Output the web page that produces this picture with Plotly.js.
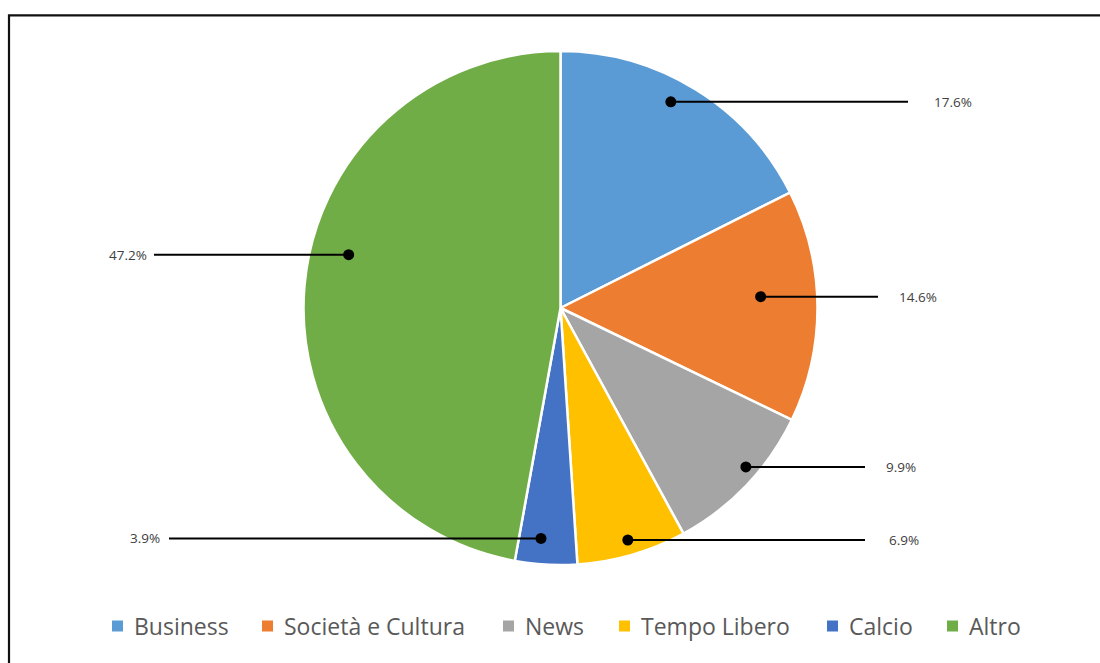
<!DOCTYPE html>
<html>
<head>
<meta charset="utf-8">
<script src="https://cdn.plot.ly/plotly-3.0.1.min.js"></script>
<style>html,body{margin:0;padding:0;background:#fff;}#chart{width:1100px;height:663px;}</style>
</head>
<body>
<div id="chart"></div>
<script>
// ---- data ----
const categories = ["Business", "Società e Cultura", "News", "Tempo Libero", "Calcio", "Altro"];
const values = [17.6, 14.6, 9.9, 6.9, 3.9, 47.2];
const colors = ["#5B9BD5", "#ED7D31", "#A5A5A5", "#FFC000", "#4472C4", "#70AD47"];

// ---- layout helpers (positions in pixels) ----
const W = 1100, H = 663;
const cx = 560.5, cy = 308, R = 257;
// per-label callout placement: radial fraction, angle nudge (deg), line end x, text x, side
const callouts = [
  {rf: 0.91, dAng: -3.5, lineX: 908, textX: 932, side: "right"},
  {rf: 0.78, dAng: -2.8, lineX: 878, textX: 897, side: "right"},
  {rf: 0.95, dAng: -3.0, lineX: 865, textX: 884, side: "right"},
  {rf: 0.94, dAng: 0.0,  lineX: 865, textX: 887, side: "right"},
  {rf: 0.90, dAng: 1.6,  lineX: 169, textX: 162, side: "left"},
  {rf: 0.85, dAng: 9.0,  lineX: 154, textX: 149, side: "left"}
];
// legend entry left positions (square) in pixels
const legendSquareX = [112, 262, 503, 619, 827, 947];
const legendY = 626;

const px = x => x / W;
const py = y => 1 - y / H;

const total = values.reduce((a, b) => a + b, 0);
const shapes = [];
const annotations = [];
let cum = 0;
values.forEach((v, i) => {
  const mid = (cum + v / 2) / total * 360;
  cum += v;
  const c = callouts[i];
  const ang = (mid + c.dAng) * Math.PI / 180;
  const r = R * c.rf;
  const dx = cx + r * Math.sin(ang);
  const dy = cy - r * Math.cos(ang);
  shapes.push({type: "line", xref: "paper", yref: "paper",
    x0: px(dx), y0: py(dy), x1: px(c.lineX), y1: py(dy),
    line: {color: "#000", width: 2}});
  const dr = 5.5;
  shapes.push({type: "circle", xref: "paper", yref: "paper",
    x0: px(dx - dr), x1: px(dx + dr), y0: py(dy + dr), y1: py(dy - dr),
    fillcolor: "#000", line: {color: "#000", width: 0}});
  annotations.push({xref: "paper", yref: "paper", x: px(c.textX), y: py(dy),
    xanchor: c.side === "right" ? "left" : "right", yanchor: "middle",
    text: v.toFixed(1) + "%", showarrow: false,
    font: {family: "Open Sans, sans-serif", size: 13.5, color: "#404040"}});
});

// custom legend: square swatch + label
categories.forEach((name, i) => {
  const sx = legendSquareX[i], s = 11;
  shapes.push({type: "rect", xref: "paper", yref: "paper",
    x0: px(sx), x1: px(sx + s), y0: py(legendY + s / 2), y1: py(legendY - s / 2),
    fillcolor: colors[i], line: {width: 0}});
  annotations.push({xref: "paper", yref: "paper", x: px(sx + 20), y: py(legendY),
    xanchor: "left", yanchor: "middle", text: name, showarrow: false,
    font: {family: "Open Sans, sans-serif", size: 23, color: "#595959"}});
});

// outer frame
shapes.push({type: "rect", xref: "paper", yref: "paper",
  x0: px(9), x1: 1.05, y0: -0.05, y1: py(15.3),
  line: {color: "#111", width: 2.2}, fillcolor: "rgba(0,0,0,0)", layer: "above"});

const trace = {
  type: "pie",
  labels: categories,
  values: values,
  sort: false,
  direction: "clockwise",
  rotation: 0,
  textinfo: "none",
  hoverinfo: "label+percent",
  showlegend: false,
  marker: {colors: colors, line: {color: "#fff", width: 2.5}},
  domain: {x: [px(cx - R), px(cx + R)], y: [py(cy + R), py(cy - R)]}
};

const layout = {
  width: W, height: H,
  margin: {l: 0, r: 0, t: 0, b: 0},
  paper_bgcolor: "#fff",
  showlegend: false,
  shapes: shapes,
  annotations: annotations
};

Plotly.newPlot("chart", [trace], layout, {displayModeBar: false, staticPlot: true});
</script>
</body>
</html>
